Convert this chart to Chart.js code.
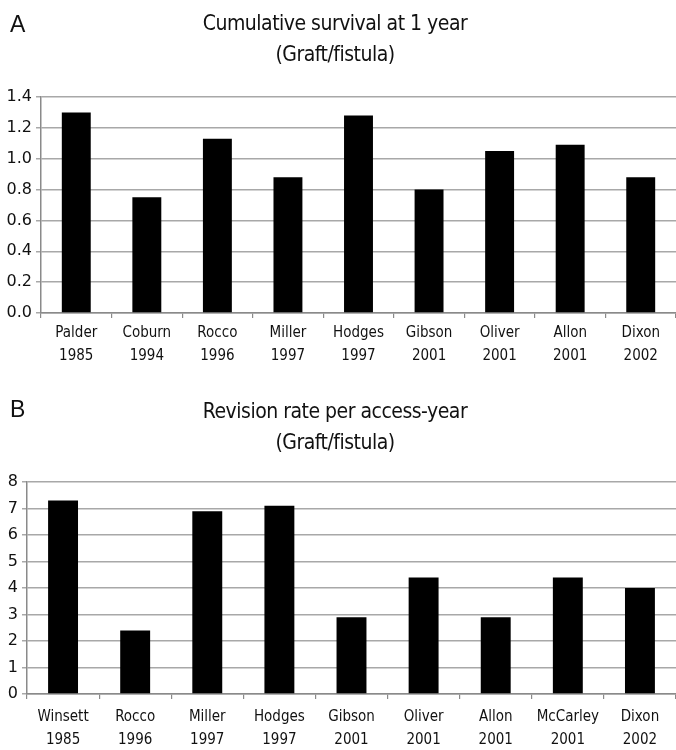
<!DOCTYPE html>
<html>
<head>
<meta charset="utf-8">
<script src="https://cdn.jsdelivr.net/npm/chart.js@4.4.1/dist/chart.umd.min.js"></script>
<style>
  html, body { margin: 0; padding: 0; background: #fff; }
  body { width: 676px; height: 750px; position: relative; overflow: hidden; }
  .panel { position: absolute; left: 0; width: 676px; height: 375px; }
  .letter { position: absolute; left: 10px; font-family: "Liberation Sans", Arial, sans-serif; font-size: 23px; color: #111; line-height: 23px; }
  .title { position: absolute; left: 0; width: 670px; text-align: center; font-family: "DejaVu Sans Condensed", "DejaVu Sans", sans-serif; font-size: 21px; letter-spacing: -0.5px; line-height: 31px; color: #111; }
</style>
</head>
<body>
<div class="panel" style="top:0px"><canvas id="chartA" width="676" height="375"></canvas></div>
<div class="panel" style="top:375px"><canvas id="chartB" width="676" height="375"></canvas></div>
<div class="letter" style="top:13px">A</div>
<div class="title" style="top:8px">Cumulative survival at 1 year<br>(Graft/fistula)</div>
<div class="letter" style="top:398px">B</div>
<div class="title" style="top:396px">Revision rate per access-year<br>(Graft/fistula)</div>
<script>
// ---- Data: panel A ----
const categoriesA = [
  ['Palder', '1985'], ['Coburn', '1994'], ['Rocco', '1996'], ['Miller', '1997'],
  ['Hodges', '1997'], ['Gibson', '2001'], ['Oliver', '2001'], ['Allon', '2001'], ['Dixon', '2002']
];
const valuesA = [1.30, 0.75, 1.13, 0.88, 1.28, 0.80, 1.05, 1.09, 0.88];
const yTicksA = [0.0, 0.2, 0.4, 0.6, 0.8, 1.0, 1.2, 1.4];

// ---- Data: panel B ----
const categoriesB = [
  ['Winsett', '1985'], ['Rocco', '1996'], ['Miller', '1997'], ['Hodges', '1997'],
  ['Gibson', '2001'], ['Oliver', '2001'], ['Allon', '2001'], ['McCarley', '2001'], ['Dixon', '2002']
];
const valuesB = [7.3, 2.4, 6.9, 7.1, 2.9, 4.4, 2.9, 4.4, 4.0];
const yTicksB = [0, 1, 2, 3, 4, 5, 6, 7, 8];

const xFont = { family: '"DejaVu Sans Condensed", "DejaVu Sans", sans-serif', size: 15, lineHeight: 1.5 };
const yFont = { family: '"DejaVu Sans", sans-serif', size: 16 };

function makeChart(id, cats, vals, ticks, decimals, cfg) {
  return new Chart(document.getElementById(id), {
    type: 'bar',
    data: {
      labels: cats,
      datasets: [{
        data: vals,
        backgroundColor: '#000',
        borderColor: '#111',
        borderWidth: 0,
        categoryPercentage: 1.0,
        barPercentage: cfg.barPct
      }]
    },
    options: {
      responsive: false,
      animation: false,
      devicePixelRatio: 1,
      layout: { padding: { top: cfg.padTop, right: 0, bottom: 0, left: 0 } },
      plugins: { legend: { display: false }, title: { display: false }, tooltip: { enabled: false } },
      scales: {
        x: {
          offset: true,
          grid: { display: true, drawOnChartArea: false, drawTicks: true, tickLength: 5, color: '#8a8a8a', lineWidth: 1.2, offset: true },
          border: { display: true, color: '#8a8a8a', width: 1.5 },
          ticks: { font: xFont, color: '#111', padding: cfg.xPad, maxRotation: 0, autoSkip: false },
          afterFit: s => { s.height = cfg.xHeight; }
        },
        y: {
          min: ticks[0],
          max: ticks[ticks.length - 1],
          afterBuildTicks: s => { s.ticks = ticks.map(v => ({ value: v })); },
          grid: { color: '#a8a8a8', lineWidth: 1.5, drawTicks: true, tickLength: 5 },
          border: { display: true, color: '#8a8a8a', width: 1.5 },
          ticks: { font: yFont, color: '#111', padding: 4, callback: v => Number(v).toFixed(decimals) },
          afterFit: s => { s.width = cfg.yWidth; }
        }
      }
    }
  });
}

makeChart('chartA', categoriesA, valuesA, yTicksA, 1, { barPct: 0.41, padTop: 97, xHeight: 62, yWidth: 41, xPad: 4 });
makeChart('chartB', categoriesB, valuesB, yTicksB, 0, { barPct: 0.415, padTop: 107, xHeight: 56, yWidth: 27, xPad: 7 });
</script>
</body>
</html>
